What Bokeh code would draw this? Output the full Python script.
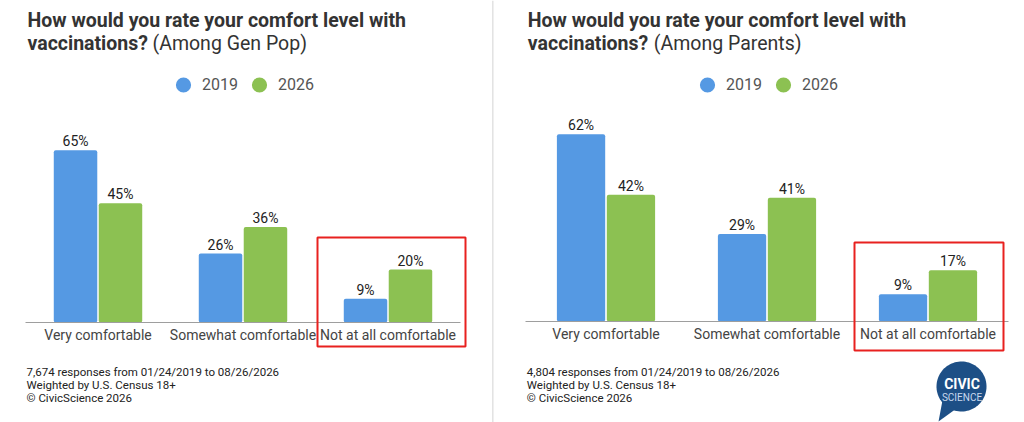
import numpy as np
from bokeh.plotting import figure
from bokeh.models import (ColumnDataSource, FactorRange, Range1d, Label, BoxAnnotation,
                          PolyAnnotation, Legend, LegendItem, Span)
from bokeh.transform import dodge
from bokeh.layouts import row
from bokeh.embed import file_html
from bokeh.resources import INLINE
from bokeh.core.properties import value

# ---------------- data ----------------
categories = ["Very comfortable", "Somewhat comfortable", "Not at all comfortable"]
years = ["2019", "2026"]
genpop_2019 = [65, 26, 9]
genpop_2026 = [45, 36, 20]
parents_2019 = [62, 29, 9]
parents_2026 = [42, 41, 17]
title_line1 = "How would you rate your comfort level with"
title_line2_bold = "vaccinations?"
genpop_subtitle = "(Among Gen Pop)"
parents_subtitle = "(Among Parents)"
genpop_notes = ["7,674 responses from 01/24/2019 to 08/26/2026",
                "Weighted by U.S. Census 18+",
                "\u00a9 CivicScience 2026"]
parents_notes = ["4,804 responses from 01/24/2019 to 08/26/2026",
                 "Weighted by U.S. Census 18+",
                 "\u00a9 CivicScience 2026"]

BLUE = "#5599e3"
GREEN = "#8cc152"
RED = "#e8211f"
FONT = "Roboto"
H = 422


def make_panel(width, pad_px, cat_px, base_from_bottom, px_per_pct, v19, v26,
               subtitle, notes, title_x, sub_x, legend_x, box, logo=False):
    p = figure(width=width, height=H,
               x_range=FactorRange(*categories, range_padding=pad_px / cat_px,
                                   range_padding_units="absolute"),
               y_range=Range1d(-base_from_bottom / px_per_pct,
                               (H - base_from_bottom) / px_per_pct),
               min_border=0, x_axis_location=None, y_axis_location=None,
               toolbar_location=None, output_backend="svg")
    p.outline_line_color = None
    p.xgrid.grid_line_color = None
    p.ygrid.grid_line_color = None
    p.background_fill_color = "white"
    p.border_fill_color = "white"

    src = ColumnDataSource(dict(cat=categories, zero=[0] * len(categories), y19=v19, y26=v26,
                                t19=[f"{v}%" for v in v19], t26=[f"{v}%" for v in v26]))
    off = 0.155
    p.vbar(x=dodge("cat", -off, range=p.x_range), top="y19", width=0.3, source=src,
           fill_color=BLUE, line_color=None, border_radius=2)
    p.vbar(x=dodge("cat", off, range=p.x_range), top="y26", width=0.3, source=src,
           fill_color=GREEN, line_color=None, border_radius=2)
    for col, tcol, o in (("y19", "t19", -off), ("y26", "t26", off)):
        p.text(x=dodge("cat", o, range=p.x_range), y=col, text=tcol, source=src,
               text_align="center", text_baseline="top", y_offset=-17,
               text_font=value(FONT), text_font_size="14px", text_color="#222222")

    # category axis line + labels
    axsrc = ColumnDataSource(dict(first=[categories[0]], last=[categories[-1]], zero=[0]))
    p.segment(x0=dodge("first", -0.5, range=p.x_range), x1=dodge("last", 0.5, range=p.x_range),
              y0="zero", y1="zero", source=axsrc, line_color="#9e9e9e", line_width=1)
    p.text(x="cat", y="zero", text="cat", source=src, text_align="center",
           text_baseline="top", y_offset=4, text_font=value(FONT),
           text_font_size="14px", text_color="#444444")

    # legend (circle swatches)
    r1 = p.scatter(x=categories[:1], y=v19[:1], marker="circle", size=16,
                   fill_color=BLUE, line_color=None, visible=False)
    r2 = p.scatter(x=categories[:1], y=v26[:1], marker="circle", size=16,
                   fill_color=GREEN, line_color=None, visible=False)
    legend = Legend(items=[LegendItem(label=years[0], renderers=[r1]),
                           LegendItem(label=years[1], renderers=[r2])],
                    orientation="horizontal", location=(legend_x, H - 104),
                    glyph_width=38, glyph_height=39, label_standoff=0, spacing=2,
                    padding=0, margin=0, border_line_alpha=0, background_fill_alpha=0,
                    label_text_font=FONT, label_text_font_size="16px",
                    label_text_color="#555555", click_policy="none")
    p.add_layout(legend)

    # titles
    p.add_layout(Label(x=title_x, y=H - 8, x_units="screen", y_units="screen", text=title_line1,
                       text_font=FONT, text_font_size="19.5px", text_font_style="bold",
                       text_color="#333333", text_baseline="top"))
    p.add_layout(Label(x=title_x, y=H - 31, x_units="screen", y_units="screen",
                       text=title_line2_bold, text_font=FONT, text_font_size="19.5px",
                       text_font_style="bold", text_color="#333333", text_baseline="top"))
    p.add_layout(Label(x=sub_x, y=H - 31, x_units="screen", y_units="screen", text=subtitle,
                       text_font=FONT, text_font_size="19.5px", text_font_style="normal",
                       text_color="#333333", text_baseline="top"))

    # footnotes
    for i, t in enumerate(notes):
        p.add_layout(Label(x=title_x - 1, y=H - 364 - 13 * i, x_units="screen",
                           y_units="screen", text=t, text_font=FONT, text_font_size="11.5px",
                           text_color="#222222", text_baseline="top"))

    # highlight box
    bl, br, bt, bb = box
    p.add_layout(BoxAnnotation(left=bl, right=br, top=bt, bottom=bb,
                               left_units="screen", right_units="screen",
                               top_units="screen", bottom_units="screen",
                               fill_color=None, fill_alpha=0, line_color=RED,
                               line_alpha=1, line_width=2))

    if logo:
        cx, cy, r = 452, 36, 25
        t = np.linspace(0, 2 * np.pi, 90)
        p.add_layout(PolyAnnotation(xs=list(cx + r * np.cos(t)), ys=list(cy + r * np.sin(t)),
                                    xs_units="screen", ys_units="screen",
                                    fill_color="#1d4f86", fill_alpha=1, line_color=None))
        p.add_layout(PolyAnnotation(xs=[433, 429, 447], ys=[22, 1, 14],
                                    xs_units="screen", ys_units="screen",
                                    fill_color="#1d4f86", fill_alpha=1, line_color=None))
        p.add_layout(Label(x=cx + 0.5, y=47, x_units="screen", y_units="screen", text="CIVIC",
                           text_font=FONT, text_font_size="14px", text_font_style="bold",
                           text_color="white", text_align="center", text_baseline="top"))
        p.add_layout(Label(x=cx + 0.5, y=31, x_units="screen", y_units="screen", text="SCIENCE",
                           text_font=FONT, text_font_size="10px",
                           text_color="#c9d9ee", text_align="center", text_baseline="top"))
    return p


left = make_panel(485, 25, 145, 100, 2.65, genpop_2019, genpop_2026,
                  genpop_subtitle, genpop_notes, 27, 152, 164, (317, 465, 185, 76))
right = make_panel(515, 16, 161, 101, 3.02, parents_2019, parents_2026,
                   parents_subtitle, parents_notes, 18.3, 144.3, 179,
                   (345, 494, 180, 72), logo=True)

# thin vertical separator between the two panels
sep = figure(width=24, height=H, x_range=Range1d(0, 24), y_range=Range1d(0, 1),
             min_border=0, x_axis_location=None, y_axis_location=None,
             toolbar_location=None, output_backend="svg")
sep.outline_line_color = None
sep.xgrid.grid_line_color = None
sep.ygrid.grid_line_color = None
sep.add_layout(Span(location=7.3, dimension="height", line_color="#e2e2e2", line_width=1.5))

layout = row(left, sep, right, spacing=0)
open("out.html", "w").write(file_html(layout, INLINE))
